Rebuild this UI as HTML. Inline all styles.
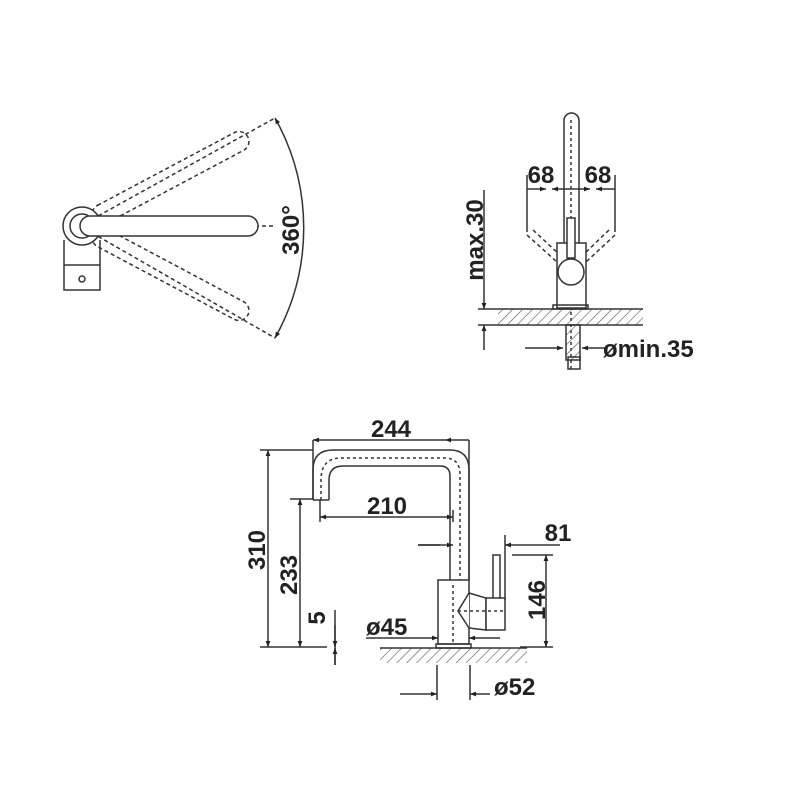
<!DOCTYPE html>
<html><head><style>body{margin:0;background:#fff}svg{display:block}text{font-family:"Liberation Sans",sans-serif;font-weight:bold;fill:#222}</style></head><body>
<svg width="800" height="800" viewBox="0 0 800 800" xmlns="http://www.w3.org/2000/svg">
<defs>
<pattern id="h" width="7" height="7" patternUnits="userSpaceOnUse" patternTransform="rotate(45)"><line x1="0" y1="0" x2="0" y2="7" stroke="#555" stroke-width="1.2"/></pattern>
<marker id="a" viewBox="0 0 10 10" refX="10" refY="5" markerWidth="11" markerHeight="6" orient="auto-start-reverse" markerUnits="userSpaceOnUse"><path d="M0,1 L10,5 L0,9z" fill="#222"/></marker>
</defs>
<g fill="none" stroke="#333" stroke-width="1.5">
<!-- top-left view -->
<line x1="80" y1="226" x2="275" y2="118" stroke-dasharray="4,3"/>
<line x1="80" y1="226" x2="275" y2="338" stroke-dasharray="4,3"/>
<line x1="80" y1="226" x2="275" y2="226" stroke-dasharray="4,3"/>
<rect x="95" y="216" width="175" height="20" rx="10" transform="rotate(-28 80 226)" stroke-dasharray="4,3"/>
<rect x="95" y="216" width="175" height="20" rx="10" transform="rotate(28 80 226)" stroke-dasharray="4,3"/>
<path d="M64,240 V290 H100 V240 M64,265 H100"/>
<circle cx="82" cy="226" r="19" fill="#fff"/>
<circle cx="82" cy="226" r="12"/>
<rect x="80" y="216" width="178" height="20" rx="10" fill="#fff"/>
<circle cx="82" cy="279" r="3"/>
<path d="M275,118 A225,225 0 0 1 275,338" marker-start="url(#a)" marker-end="url(#a)"/>
<!-- right view -->
<rect x="564" y="113" width="15" height="140" rx="7.5"/>
<line x1="571" y1="120" x2="571" y2="370" stroke-dasharray="3,3"/>
<path d="M527,175 V232 M615,175 V232"/>
<line x1="527" y1="189" x2="546" y2="189" marker-end="url(#a)"/>
<line x1="571" y1="189" x2="552" y2="189" marker-end="url(#a)"/>
<line x1="571" y1="189" x2="590" y2="189" marker-end="url(#a)"/>
<line x1="615" y1="189" x2="596" y2="189" marker-end="url(#a)"/>
<path d="M527,235 L557,262 M533,230 L560,255 M615,235 L586,262 M609,230 L583,255" stroke-dasharray="4,3"/>
<rect x="557" y="243" width="29" height="65" fill="#fff"/>
<rect x="567" y="218" width="8" height="40" fill="#fff"/>
<circle cx="571" cy="272" r="13" fill="#fff"/>
<rect x="498" y="309" width="145" height="16" fill="url(#h)" stroke="none"/>
<path d="M478,309 H643 M478,325 H643"/>
<rect x="553" y="305" width="35" height="4"/>
<rect x="566" y="325" width="14" height="35" fill="url(#h)"/>
<rect x="568" y="357" width="12" height="12"/>
<line x1="484" y1="190" x2="484" y2="309" marker-end="url(#a)"/>
<line x1="484" y1="350" x2="484" y2="325" marker-end="url(#a)"/>
<line x1="525" y1="348" x2="563" y2="348" marker-end="url(#a)"/>
<line x1="605" y1="348" x2="582" y2="348" marker-end="url(#a)"/>
<!-- bottom view -->
<path d="M313,500 V470 Q313,450 333,450 H450 Q469,450 469,470 V580 M329,500 V480 Q329,466 343,466 H440 Q450,466 450,476 V580 M313,500 H329"/>
<path d="M321,500 V480 Q321,458 341,458 H445 Q460,458 460,475 V640" stroke-dasharray="3,3"/>
<rect x="438" y="580" width="31" height="64" fill="#fff"/>
<rect x="436" y="644" width="35" height="4"/>
<line x1="453" y1="585" x2="453" y2="644" stroke-dasharray="3,3"/>
<path d="M469,593 L458,611 L469,628" fill="#fff"/>
<path d="M469,593 L486,598 V630 L469,628"/>
<rect x="493" y="555" width="7" height="45" fill="#fff"/>
<rect x="486" y="598" width="19" height="32" fill="#fff"/>
<line x1="458" y1="611" x2="505" y2="611" stroke-dasharray="3,3"/>
<rect x="380" y="648" width="147" height="15" fill="url(#h)" stroke="none"/>
<path d="M260,647 H327 M380,648 H527 M313,440 V500 M469,440 V580 M260,450 H313 M290,499 H313 M320,500 V522 M453,510 V522 M418,545 H440 M505,535 V600 M512,555 H553 M520,647 H553 M335,610 V665 M437,665 V700 M470,665 V700"/>
<line x1="313" y1="440" x2="337" y2="440" marker-start="url(#a)"/>
<line x1="469" y1="440" x2="445" y2="440" marker-end="url(#a)"/>
<line x1="337" y1="440" x2="445" y2="440"/>
<line x1="268" y1="450" x2="268" y2="647" marker-start="url(#a)" marker-end="url(#a)"/>
<line x1="300" y1="499" x2="300" y2="647" marker-start="url(#a)" marker-end="url(#a)"/>
<line x1="320" y1="517" x2="453" y2="517" marker-start="url(#a)" marker-end="url(#a)"/>
<line x1="418" y1="545" x2="453" y2="545" marker-end="url(#a)"/>
<line x1="560" y1="545" x2="505" y2="545" marker-end="url(#a)"/>
<line x1="546" y1="555" x2="546" y2="647" marker-start="url(#a)" marker-end="url(#a)"/>
<line x1="335" y1="625" x2="335" y2="647" marker-end="url(#a)"/>
<line x1="335" y1="665" x2="335" y2="648" marker-end="url(#a)"/>
<line x1="366" y1="638" x2="438" y2="638" marker-end="url(#a)"/>
<line x1="500" y1="638" x2="469" y2="638" marker-end="url(#a)"/>
<line x1="400" y1="694" x2="437" y2="694" marker-end="url(#a)"/>
<line x1="490" y1="694" x2="470" y2="694" marker-end="url(#a)"/>
</g>
<g font-size="24">
<text x="0" y="0" transform="translate(299,230) rotate(-90)" text-anchor="middle">360°</text>
<text x="541" y="183" text-anchor="middle">68</text>
<text x="598" y="183" text-anchor="middle">68</text>
<text transform="translate(483,240) rotate(-90)" text-anchor="middle">max.30</text>
<text x="603" y="357">ømin.35</text>
<text x="391" y="437" text-anchor="middle">244</text>
<text x="387" y="514" text-anchor="middle">210</text>
<text x="558" y="541" text-anchor="middle">81</text>
<text transform="translate(265,550) rotate(-90)" text-anchor="middle">310</text>
<text transform="translate(297,575) rotate(-90)" text-anchor="middle">233</text>
<text transform="translate(545,600) rotate(-90)" text-anchor="middle">146</text>
<text transform="translate(325,618) rotate(-90)" text-anchor="middle">5</text>
<text x="366" y="635">ø45</text>
<text x="494" y="695">ø52</text>
</g>
</svg>
</body></html>
